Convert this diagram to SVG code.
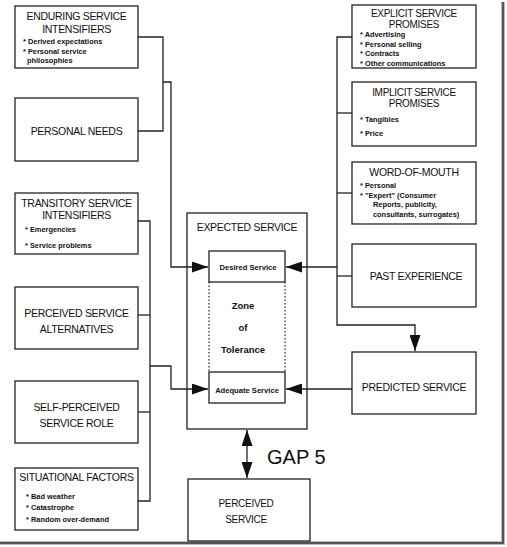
<svg xmlns="http://www.w3.org/2000/svg" width="507" height="547" viewBox="0 0 507 547">
<defs>
<style>
.box{fill:#fff;stroke:#222;stroke-width:1.3}
.t{font-family:"Liberation Sans",Arial,sans-serif;font-size:10.5px;fill:#111;text-anchor:middle;letter-spacing:-0.3px}
.b{font-family:"Liberation Sans",Arial,sans-serif;font-size:7.4px;font-weight:bold;fill:#111}
.s{font-family:"Liberation Sans",Arial,sans-serif;font-size:7.6px;font-weight:bold;fill:#111;text-anchor:middle}
.z{font-family:"Liberation Sans",Arial,sans-serif;font-size:9.5px;font-weight:bold;fill:#111;text-anchor:middle}
.ln{fill:none;stroke:#222;stroke-width:1.3}
.dot{fill:none;stroke:#222;stroke-width:1.2;stroke-dasharray:1.5 2}
</style>
<marker id="ah" viewBox="0 0 16 11" refX="16" refY="5.5" markerWidth="16" markerHeight="11" markerUnits="userSpaceOnUse" orient="auto-start-reverse">
<path d="M0,0 L16,5.5 L0,11 Z" fill="#111"/>
</marker>
</defs>
<rect width="507" height="547" fill="#fff"/>
<path d="M503,2 V543 H0" fill="none" stroke="#bbb" stroke-width="4"/>
<path d="M503,2 V543 H0" fill="none" stroke="#555" stroke-width="2"/>

<g id="enduring">
<rect class="box" x="15" y="6" width="123" height="62"/>
<text class="t" x="76.5" y="20">ENDURING SERVICE</text>
<text class="t" x="76.5" y="33">INTENSIFIERS</text>
<text class="b" x="23" y="44">* Derived expectations</text>
<text class="b" x="23" y="54">* Personal service</text>
<text class="b" x="27" y="63">philosophies</text>
</g>
<g id="personal-needs">
<rect class="box" x="15" y="98" width="123" height="63"/>
<text class="t" x="76.5" y="135">PERSONAL NEEDS</text>
</g>
<g id="transitory">
<rect class="box" x="15" y="193" width="123" height="61"/>
<text class="t" x="76.5" y="207">TRANSITORY SERVICE</text>
<text class="t" x="76.5" y="218.5">INTENSIFIERS</text>
<text class="b" x="25" y="232">* Emergencies</text>
<text class="b" x="25" y="248">* Service problems</text>
</g>
<g id="alternatives">
<rect class="box" x="15" y="287" width="123" height="62"/>
<text class="t" x="76.5" y="317">PERCEIVED SERVICE</text>
<text class="t" x="76.5" y="333">ALTERNATIVES</text>
</g>
<g id="self-perceived">
<rect class="box" x="15" y="381" width="123" height="62"/>
<text class="t" x="76.5" y="411">SELF-PERCEIVED</text>
<text class="t" x="76.5" y="427">SERVICE ROLE</text>
</g>
<g id="situational">
<rect class="box" x="15" y="468" width="123" height="62"/>
<text class="t" x="76.5" y="481">SITUATIONAL FACTORS</text>
<text class="b" x="26" y="499">* Bad weather</text>
<text class="b" x="26" y="510">* Catastrophe</text>
<text class="b" x="26" y="522">* Random over-demand</text>
</g>

<g id="expected-service">
<rect class="box" x="187" y="213" width="120" height="216"/>
<text class="t" x="247" y="231">EXPECTED SERVICE</text>
<path class="dot" d="M209,282 V372 M285,282 V372"/>
<text class="z" x="243" y="309">Zone</text>
<text class="z" x="243" y="331">of</text>
<text class="z" x="243" y="353">Tolerance</text>
</g>
<g id="desired-service">
<rect class="box" x="209" y="251" width="76" height="31"/>
<text class="s" x="248" y="270">Desired Service</text>
</g>
<g id="adequate-service">
<rect class="box" x="209" y="372" width="76" height="31"/>
<text class="s" x="247" y="393">Adequate Service</text>
</g>

<g id="perceived-service">
<rect class="box" x="188" y="479" width="122" height="62"/>
<text class="t" x="246" y="507" style="font-size:10px">PERCEIVED</text>
<text class="t" x="246" y="523" style="font-size:10px">SERVICE</text>
</g>
<text id="gap5" x="267" y="464" style="font-family:'Liberation Sans',Arial,sans-serif;font-size:20px;fill:#111">GAP 5</text>

<g id="explicit">
<rect class="box" x="352" y="5" width="124" height="63"/>
<text class="t" x="414" y="17" style="font-size:10px">EXPLICIT SERVICE</text>
<text class="t" x="414" y="28" style="font-size:10px">PROMISES</text>
<text class="b" x="360" y="37">* Advertising</text>
<text class="b" x="360" y="46.5">* Personal selling</text>
<text class="b" x="360" y="56">* Contracts</text>
<text class="b" x="360" y="65.5">* Other communications</text>
</g>
<g id="implicit">
<rect class="box" x="352" y="82" width="124" height="64"/>
<text class="t" x="414" y="96" style="font-size:10px">IMPLICIT SERVICE</text>
<text class="t" x="414" y="107" style="font-size:10px">PROMISES</text>
<text class="b" x="360" y="122">* Tangibles</text>
<text class="b" x="360" y="136">* Price</text>
</g>
<g id="word-of-mouth">
<rect class="box" x="352" y="162" width="124" height="62"/>
<text class="t" x="414" y="176">WORD-OF-MOUTH</text>
<text class="b" x="360" y="188">* Personal</text>
<text class="b" x="360" y="197.5">* "Expert" (Consumer</text>
<text class="b" x="373" y="207">Reports, publicity,</text>
<text class="b" x="373" y="216.5">consultants, surrogates)</text>
</g>
<g id="past-experience">
<rect class="box" x="352" y="244" width="124" height="63"/>
<text class="t" x="416" y="280">PAST EXPERIENCE</text>
</g>
<g id="predicted-service">
<rect class="box" x="352" y="352" width="124" height="62"/>
<text class="t" x="414" y="391">PREDICTED SERVICE</text>
</g>

<g id="connectors">
<path class="ln" d="M138,37 H163 V131 H138"/>
<path class="ln" d="M163,82 H171 V267 H208" marker-end="url(#ah)"/>
<path class="ln" d="M138,221 H150 V501 H138"/>
<path class="ln" d="M138,315 H150"/>
<path class="ln" d="M138,412 H150"/>
<path class="ln" d="M150,366 H171 V389 H208" marker-end="url(#ah)"/>
<path class="ln" d="M352,37 H337 V325 H415 V351" marker-end="url(#ah)"/>
<path class="ln" d="M337,113 H352"/>
<path class="ln" d="M337,193 H352"/>
<path class="ln" d="M337,276 H352"/>
<path class="ln" d="M337,267 H286" marker-end="url(#ah)"/>
<path class="ln" d="M352,389 H286" marker-end="url(#ah)"/>
<path class="ln" d="M247,430 V478" marker-start="url(#ah)" marker-end="url(#ah)"/>
</g>
</svg>
